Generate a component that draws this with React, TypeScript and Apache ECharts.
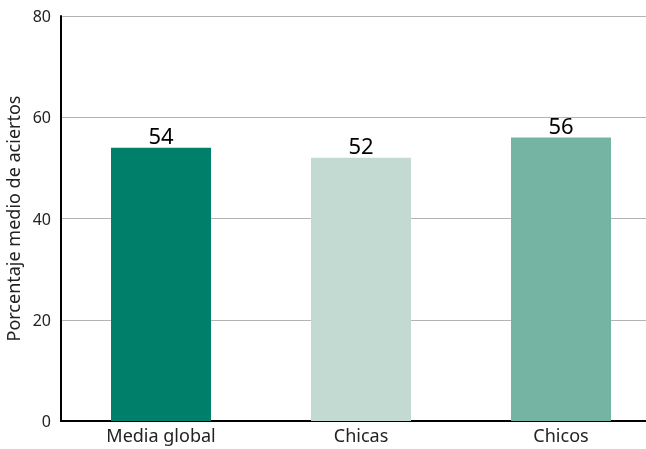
import React, { useEffect, useRef } from "react";
import * as echarts from "echarts";

const categories = ["Media global", "Chicas", "Chicos"];
const values = [54, 52, 56];
const barColors = ["#00806A", "#C2DAD2", "#75B3A3"];
const yAxisName = "Porcentaje medio de aciertos";

export default function App() {
  const ref = useRef<HTMLDivElement>(null);
  useEffect(() => {
    if (!ref.current) return;
    const chart = echarts.init(ref.current, null, { renderer: "svg" });
    chart.setOption({
      animation: false,
      grid: { left: 61, right: 0, top: 16, bottom: 28, containLabel: false, outerBoundsMode: "none" },
      xAxis: {
        type: "category",
        data: categories,
        axisLine: { lineStyle: { color: "#000", width: 2 } },
        axisTick: { show: false },
        axisLabel: { color: "#222", fontSize: 18, fontFamily: "Noto Sans", margin: 5 },
      },
      yAxis: {
        type: "value",
        min: 0,
        max: 80,
        interval: 20,
        name: yAxisName,
        nameLocation: "middle",
        nameGap: 31,
        nameTextStyle: { color: "#222", fontSize: 18, fontFamily: "Noto Sans" },
        axisLine: { show: true, lineStyle: { color: "#000", width: 2 } },
        axisTick: { show: false },
        axisLabel: { color: "#222", fontSize: 16, fontFamily: "Noto Sans", margin: 10 },
        splitLine: { lineStyle: { color: "#b3b3b3", width: 1 } },
      },
      series: [
        {
          type: "bar",
          barWidth: 100,
          data: values.map((v, i) => ({ value: v, itemStyle: { color: barColors[i] } })),
          label: {
            show: true,
            position: "top",
            distance: 2,
            color: "#000",
            fontSize: 22,
            fontFamily: "Noto Sans",
          },
        },
      ],
    });
    return () => chart.dispose();
  }, []);
  return (
    <div style={{ position: "fixed", left: 0, top: 0, width: 646, height: 449, overflow: "hidden" }}>
      <div ref={ref} style={{ width: 661, height: 449 }} />
    </div>
  );
}
